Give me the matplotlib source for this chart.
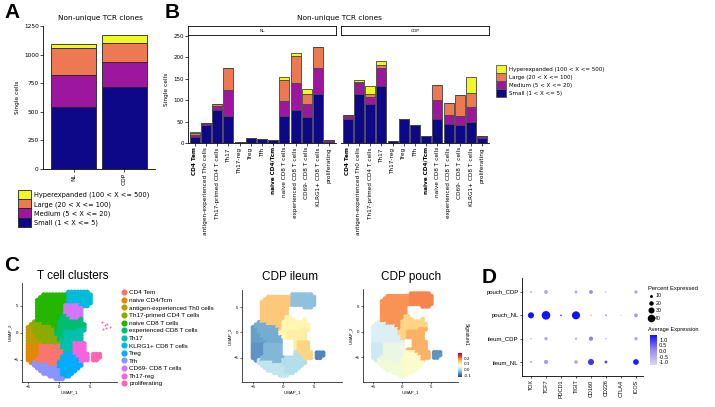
import numpy as np
import matplotlib
matplotlib.use('Agg')
import matplotlib.pyplot as plt
from matplotlib.patches import Patch
from matplotlib.lines import Line2D
from matplotlib.colors import LinearSegmentedColormap, Normalize
import matplotlib.cm as cm

# ---------------- data ----------------
clone_labels = ['Small (1 < X <= 5)', 'Medium (5 < X <= 20)',
                'Large (20 < X <= 100)', 'Hyperexpanded (100 < X <= 500)']
clone_colors = ['#0D0887', '#9C179E', '#ED7953', '#F0F921']

a_groups = ['NL', 'CDP']
a_small = [545, 720]
a_medium = [275, 218]
a_large = [242, 160]
a_hyper = [28, 72]

b_celltypes = ['CD4 Tem', 'antigen-experienced Th0 cells', 'Th17-primed CD4 T cells',
               'Th17', 'Th17-reg', 'Treg', 'Tfh', 'naive CD4/Tcm', 'naive CD8 T cells',
               'experienced CD8 T cells', 'CD69- CD8 T cells', 'KLRG1+ CD8 T cells',
               'proliferating']
b_bold = ['CD4 Tem', 'naive CD4/Tcm']
b_nl_small = [15, 42, 77, 64, 2, 12, 9, 7, 64, 76, 60, 115, 3]
b_nl_medium = [4, 4, 9, 60, 0, 0, 0, 0, 34, 64, 32, 59, 4]
b_nl_large = [4, 0, 4, 50, 0, 0, 0, 0, 50, 62, 22, 50, 0]
b_nl_hyper = [2, 0, 0, 0, 0, 0, 0, 0, 6, 8, 13, 0, 0]
b_cdp_small = [55, 115, 92, 133, 5, 55, 42, 16, 57, 44, 41, 48, 12]
b_cdp_medium = [7, 24, 16, 41, 0, 0, 0, 0, 43, 22, 23, 37, 4]
b_cdp_large = [4, 4, 7, 7, 0, 0, 0, 0, 35, 28, 47, 31, 0]
b_cdp_hyper = [0, 3, 19, 11, 0, 0, 0, 0, 0, 0, 0, 39, 0]

c_clusters = ['CD4 Tem', 'naive CD4/Tcm', 'antigen-experienced Th0 cells',
              'Th17-primed CD4 T cells', 'naive CD8 T cells', 'experienced CD8 T cells',
              'Th17', 'KLRG1+ CD8 T cells', 'Treg', 'Tfh', 'CD69- CD8 T cells',
              'Th17-reg', 'proliferating']
c_codes = 'abcdefghijklm'
c_colors = ['#F8766D', '#E18A00', '#BE9C00', '#8CAB00', '#24B700', '#00BE70',
            '#00C1AB', '#00BBDA', '#00ACFC', '#8B93FF', '#D575FE', '#F962DD', '#FF65AC']
# coarse cluster map of the UMAP (rows from UMAP_2 = 7.5 downwards, step 0.5;
# columns from UMAP_1 = -5.5 rightwards, step 0.5)
umap_map = [
    "..............hhhhhhh....",
    "......eeeeeeeehhhhhhhh...",
    ".....eeeeeeeeehhhhhhhh...",
    "....eeeeeeeeeehhhhhhhh...",
    "....eeeeeeeeeehhhhhhhh...",
    "....eeeeeeeeekkkkkhhh....",
    "....eeeeeeeeekkkkkk......",
    "....eeeeeeeeekkkkkk......",
    "....eeeeeeeeekkkkkk......",
    "....eeeeeeeeffkkkkk......",
    "....eeeeeeeefffkkkf......",
    "...deeeeeeeffffffff......",
    "..ddddeeeeefffffffff.....",
    ".cdddddddeefffffffff.....",
    ".ccdddddddeffffffggg.....",
    ".ccdddddddfffgggggg......",
    ".cccddddddfffgggggg......",
    ".cccdddddddffgggggg......",
    ".ccccddddddfggggggg......",
    ".cccccddddddggggllll.....",
    ".bbbbaaaaaaaggggllll.....",
    ".bbbbaaaaaaaggggllll.....",
    ".bbbbaaaaaaaagggllll.....",
    ".bbbbaaaaaaaaiiilllll.mmm",
    ".bbbbaaaaaaaiiiiillll.mmm",
    ".bbbaaaaaaaaiiiiiilll.mm.",
    "..bjaaaaaaaiiiiiiil......",
    "...jjjjjaaaiiiiiiii......",
    "....jjjjjjjiiiiiii.......",
    ".....jjjjjjjiiiii........",
    "......jjjjjjiiii.........",
    "........jjjjiii..........",
    "..........jjj............",
]
umap_top, umap_left, umap_step = 7.5, -5.5, 0.5
prolif_x = [6.9, 7.3, 7.7, 8.1, 7.0, 7.5]
prolif_y = [1.9, 1.4, 1.7, 1.0, 0.7, 0.9]

# mean signature score per cluster (nan = almost no cells)
ileum_score = [-0.04, -0.07, -0.06, -0.05, 0.14, 0.09, 0.10, -0.03, 0.00, 0.01, np.nan, 0.13, -0.08]
pouch_score = [0.05, 0.02, 0.03, 0.03, 0.18, 0.13, 0.16, 0.19, 0.07, 0.06, np.nan, 0.16, -0.07]
ileum_hole = (0.0, 1.5, -4.5, -1.5)
pouch_hole = (0.5, 1.5, -3.0, -1.5)

d_genes = ['TOX', 'TCF7', 'PDCD1', 'TIGIT', 'CD160', 'CD226', 'CTLA4', 'ICOS']
d_samples = ['ileum_NL', 'ileum_CDP', 'pouch_NL', 'pouch_CDP']
d_pct_ileum_NL = [10, 22, 3, 18, 32, 15, 2, 30]
d_pct_ileum_CDP = [8, 18, 3, 12, 22, 8, 3, 18]
d_pct_pouch_NL = [32, 45, 8, 42, 10, 10, 5, 20]
d_pct_pouch_CDP = [10, 20, 3, 15, 20, 8, 3, 18]
d_avg_ileum_NL = [-0.3, -0.3, -0.5, -0.3, 1.0, 0.8, -0.6, 1.3]
d_avg_ileum_CDP = [-0.6, -0.5, -1.0, -0.5, 0.2, -0.5, -1.0, -0.5]
d_avg_pouch_NL = [1.4, 1.4, 1.3, 1.5, -1.2, -0.2, -0.3, -0.2]
d_avg_pouch_CDP = [-0.6, -0.4, -1.0, -0.4, 0.0, -0.6, -1.0, -0.5]
d_pct_legend = [10, 20, 30, 40]

# ---------------- figure ----------------
W, H = 715, 407
fig = plt.figure(figsize=(W / 100, H / 100), dpi=100)
DV = 'DejaVu Sans'
AR = 'Liberation Sans'


def ax_px(l, t, r, b):
    return fig.add_axes([l / W, 1 - b / H, (r - l) / W, (b - t) / H])


def fx(x):
    return x / W


def fy(y):
    return 1 - y / H


def panel_label(x, y, s):
    fig.text(fx(x), fy(y), s, fontsize=15, fontweight='bold', family=AR, va='top', ha='left')


panel_label(4, 3, 'A')
panel_label(165, 3, 'B')
panel_label(4, 256, 'C')
panel_label(482, 268, 'D')

# ---- Panel A ----
axA = ax_px(43, 26, 155, 169)
xa = np.arange(len(a_groups))
bottom = np.zeros(len(a_groups))
for vals, col in zip([a_small, a_medium, a_large, a_hyper], clone_colors):
    axA.bar(xa, vals, width=0.9, bottom=bottom, color=col, edgecolor='#222222', linewidth=0.6)
    bottom += np.array(vals)
axA.set_xlim(-0.6, 1.6)
axA.set_ylim(0, 1250)
axA.set_yticks(range(0, 1251, 250))
axA.set_xticks(xa)
axA.set_xticklabels(a_groups, rotation=90, family=DV)
axA.spines[['top', 'right']].set_visible(False)
for s in ['left', 'bottom']:
    axA.spines[s].set_linewidth(0.6)
axA.tick_params(labelsize=4.2, length=2, width=0.5, pad=1)
axA.set_ylabel('Single cells', fontsize=4.2, labelpad=3, family=DV)
fig.text(fx(100), fy(18), 'Non-unique TCR clones', fontsize=5.3, family=DV, ha='center', va='center')

handlesA = [Patch(facecolor=c, edgecolor='#222222', linewidth=0.6, label=l)
            for c, l in zip(clone_colors[::-1], clone_labels[::-1])]
fig.legend(handles=handlesA, loc='upper left', bbox_to_anchor=(fx(18), fy(190)),
           prop={'family': DV, 'size': 4.75}, frameon=False, handlelength=2.0,
           handleheight=1.78, labelspacing=0.0, handletextpad=0.45, borderpad=0,
           borderaxespad=0)

# ---- Panel B ----
fig.text(fx(339), fy(18), 'Non-unique TCR clones', fontsize=5.3, family=DV, ha='center', va='center')
facets = [('NL', 188, 336, [b_nl_small, b_nl_medium, b_nl_large, b_nl_hyper]),
          ('CDP', 341, 489, [b_cdp_small, b_cdp_medium, b_cdp_large, b_cdp_hyper])]
xb = np.arange(1, len(b_celltypes) + 1)
for k, (name, l, r, series) in enumerate(facets):
    ax = ax_px(l, 35, r, 143)
    bottom = np.zeros(len(b_celltypes))
    for vals, col in zip(series, clone_colors):
        ax.bar(xb, vals, width=0.9, bottom=bottom, color=col, edgecolor='#444444', linewidth=0.6)
        bottom += np.array(vals)
    ax.set_xlim(0.4, 13.6)
    ax.set_ylim(0, 252)
    ax.set_yticks(range(0, 251, 50))
    ax.set_xticks(xb)
    ax.set_xticklabels(b_celltypes, rotation=90, family=DV)
    for lab in ax.get_xticklabels():
        if lab.get_text() in b_bold:
            lab.set_fontweight('bold')
    ax.spines[['top', 'right']].set_visible(False)
    for s in ['left', 'bottom']:
        ax.spines[s].set_linewidth(0.6)
    ax.tick_params(labelsize=4.0, length=2, width=0.5, pad=1)
    ax.tick_params(axis='x', labelsize=4.15)
    if k == 0:
        ax.set_ylabel('Single cells', fontsize=4.2, labelpad=3, family=DV)
    else:
        ax.tick_params(axis='y', labelleft=False, length=0)
        ax.spines['left'].set_visible(False)
    sax = ax_px(l, 26, r, 35)
    sax.set_xticks([])
    sax.set_yticks([])
    for s in sax.spines.values():
        s.set_linewidth(0.6)
    sax.text(0.5, 0.5, name, fontsize=3.2, family=DV, ha='center', va='center', transform=sax.transAxes)

handlesB = [Patch(facecolor=c, edgecolor='#555555', linewidth=0.6, label=l)
            for c, l in zip(clone_colors[::-1], clone_labels[::-1])]
fig.legend(handles=handlesB, loc='upper left', bbox_to_anchor=(fx(496), fy(65)),
           prop={'family': DV, 'size': 4.0}, frameon=False, handlelength=1.8,
           handleheight=1.85, labelspacing=0.0, handletextpad=0.5, borderpad=0,
           borderaxespad=0)

# ---- Panel C: UMAPs ----
ux, uy, uc = [], [], []
for i, row in enumerate(umap_map):
    for j, ch in enumerate(row):
        if ch in c_codes:
            ux.append(umap_left + umap_step * j)
            uy.append(umap_top - umap_step * i)
            uc.append(c_codes.index(ch))
ux = np.array(ux)
uy = np.array(uy)
uc = np.array(uc)


def umap_axes(l, t, r, b, xlim, ylim):
    ax = ax_px(l, t, r, b)
    ax.set_xlim(*xlim)
    ax.set_ylim(*ylim)
    ax.set_xticks([-5, 0, 5])
    ax.set_yticks([-5, 0, 5])
    ax.spines[['top', 'right']].set_visible(False)
    for s in ['left', 'bottom']:
        ax.spines[s].set_linewidth(0.5)
    ax.tick_params(labelsize=3.2, length=1.5, width=0.4, pad=1)
    for lab in ax.get_xticklabels() + ax.get_yticklabels():
        lab.set_family(AR)
    ax.set_xlabel('UMAP_1', fontsize=3.2, family=AR, labelpad=1)
    ax.set_ylabel('UMAP_2', fontsize=3.2, family=AR, labelpad=1)
    return ax


axC = umap_axes(22, 283, 117, 382, (-6, 9.3), (-9.1, 9.2))
cols = [c_colors[k] for k in uc]
axC.scatter(ux, uy, c=cols, s=14, marker='o', linewidths=0)
axC.scatter(prolif_x, prolif_y, c=c_colors[12], s=2, linewidths=0)
fig.text(fx(73), fy(276), 'T cell clusters', fontsize=8.5, family=AR, ha='center', va='center')

handlesC = [Line2D([], [], marker='o', ls='', color=c, markersize=3.4, label=l)
            for c, l in zip(c_colors, c_clusters)]
fig.legend(handles=handlesC, loc='upper left', bbox_to_anchor=(fx(121), fy(290)),
           prop={'family': AR, 'size': 4.6}, frameon=False, handlelength=0.8,
           labelspacing=0.33, handletextpad=0.5, borderpad=0, borderaxespad=0)

score_cmap = plt.get_cmap('RdYlBu_r')
score_norm = Normalize(-0.135, 0.29)


def feature_plot(l, t, r, b, scores, hole, title, tx):
    ax = umap_axes(l, t, r, b, (-6.8, 9.6), (-9.8, 8.4))
    vals = np.array([scores[k] for k in uc])
    keep = ~np.isnan(vals)
    inhole = (ux >= hole[0]) & (ux <= hole[1]) & (uy >= hole[2]) & (uy <= hole[3])
    keep &= ~inhole
    ax.scatter(ux[keep], uy[keep], c=vals[keep], cmap=score_cmap, norm=score_norm,
               s=12, marker='o', linewidths=0)
    fig.text(fx(tx), fy(277), title, fontsize=8.5, family=AR, ha='center', va='center')
    return ax


feature_plot(242, 290, 342, 382, ileum_score, ileum_hole, 'CDP ileum', 290)
feature_plot(363, 289, 458, 382, pouch_score, pouch_hole, 'CDP pouch', 411)

cax = ax_px(458, 353, 462, 377)
cb = fig.colorbar(cm.ScalarMappable(norm=score_norm, cmap=score_cmap), cax=cax)
cb.set_ticks([-0.1, 0.0, 0.1, 0.2])
cb.set_ticklabels(['-0.1', '0.0', '0.1', '0.2'])
cb.ax.tick_params(labelsize=3.0, length=0, pad=1)
cb.outline.set_visible(False)
fig.text(fx(466), fy(334), 'Signature1', fontsize=3.3, family=AR, rotation=-90,
         ha='center', va='center')

# ---- Panel D: dot plot ----
axD = ax_px(522, 278, 643, 376)
pct = np.array([d_pct_ileum_NL, d_pct_ileum_CDP, d_pct_pouch_NL, d_pct_pouch_CDP])
avg = np.array([d_avg_ileum_NL, d_avg_ileum_CDP, d_avg_pouch_NL, d_avg_pouch_CDP])
gx, gy = np.meshgrid(np.arange(1, len(d_genes) + 1), np.arange(1, len(d_samples) + 1))
d_cmap = LinearSegmentedColormap.from_list('lg_blue', ['#DDD5EE', '#9A88EA', '#1010FF'])
d_norm = Normalize(-1.27, 1.45)
dk = 0.138
axD.scatter(gx.ravel(), gy.ravel(), s=(dk * pct.ravel()) ** 2, c=avg.ravel(),
            cmap=d_cmap, norm=d_norm, linewidths=0)
axD.set_xlim(0.4, 8.47)
axD.set_ylim(0.4, 4.6)
axD.set_xticks(np.arange(1, len(d_genes) + 1))
axD.set_xticklabels(d_genes, rotation=90, family=AR)
axD.set_yticks(np.arange(1, len(d_samples) + 1))
axD.set_yticklabels(d_samples, family=AR)
axD.spines[['top', 'right']].set_visible(False)
for s in ['left', 'bottom']:
    axD.spines[s].set_linewidth(0.6)
axD.tick_params(labelsize=4.0, length=1.5, width=0.5, pad=1)
axD.tick_params(axis='y', labelsize=4.3)

handlesD = [Line2D([], [], marker='o', ls='', color='black', markersize=dk * p * 0.8, label=str(p))
            for p in d_pct_legend]
fig.legend(handles=handlesD, loc='upper left', bbox_to_anchor=(fx(648), fy(286)),
           title='Percent Expressed', alignment='left',
           prop={'family': AR, 'size': 3.8}, title_fontproperties={'family': AR, 'size': 4.2},
           frameon=False, handlelength=1.0, labelspacing=0.45, handletextpad=0.4,
           borderpad=0, borderaxespad=0)
fig.text(fx(648), fy(330), 'Average Expression', fontsize=4.1, family=AR, ha='left', va='center')
caxD = ax_px(650, 335, 657, 365)
cbD = fig.colorbar(cm.ScalarMappable(norm=d_norm, cmap=d_cmap), cax=caxD)
cbD.set_ticks([-1.0, -0.5, 0.0, 0.5, 1.0])
cbD.set_ticklabels(['-1.0', '-0.5', '0.0', '0.5', '1.0'])
cbD.ax.tick_params(labelsize=3.8, length=0, pad=1.5)
cbD.outline.set_visible(False)

fig.savefig('out.png', dpi=100)
